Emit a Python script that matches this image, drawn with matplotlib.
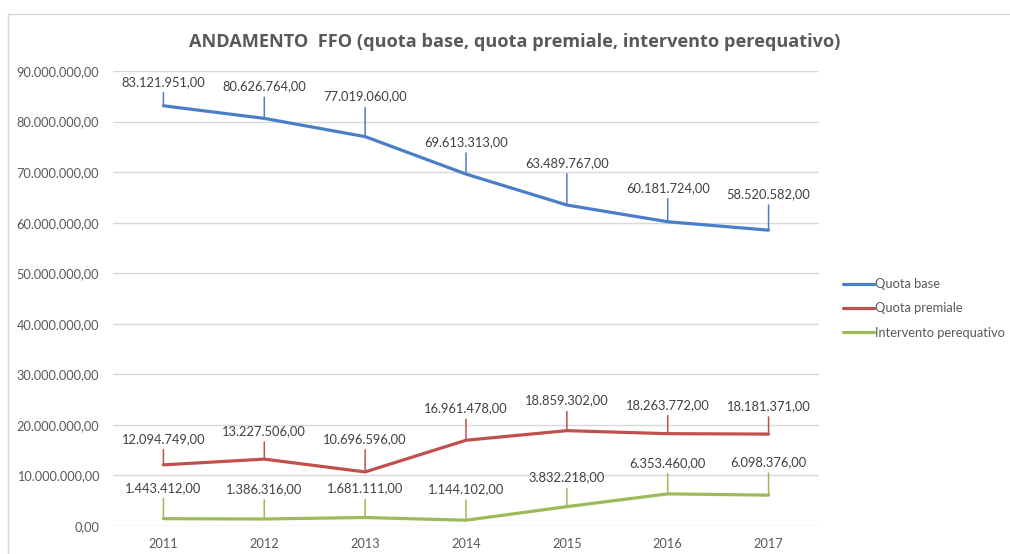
import matplotlib
matplotlib.use("Agg")
import matplotlib.pyplot as plt
from matplotlib.lines import Line2D

# data
anni = ["2011", "2012", "2013", "2014", "2015", "2016", "2017"]
quota_base = [83121951, 80626764, 77019060, 69613313, 63489767, 60181724, 58520582]
quota_premiale = [12094749, 13227506, 10696596, 16961478, 18859302, 18263772, 18181371]
intervento_pereq = [1443412, 1386316, 1681111, 1144102, 3832218, 6353460, 6098376]

# how far above the point each label sits (pixels)
off_base = [24, 32, 40, 32, 42, 34, 36]
off_premiale = [26, 28, 33, 32, 30, 29, 28]
off_pereq = [31, 30, 29, 31, 29, 31, 33]

serie = [
    ("Quota base", quota_base, off_base, "#4A7EC7"),
    ("Quota premiale", quota_premiale, off_premiale, "#C0504D"),
    ("Intervento perequativo", intervento_pereq, off_pereq, "#9BBB59"),
]

grigio = "#595959"


def fmt_it(v):
    s = f"{v:,.2f}"
    return s.replace(",", "X").replace(".", ",").replace("X", ".")


fig = plt.figure(figsize=(10.1, 5.54), dpi=100)
ax = fig.add_axes([113 / 1010, 1 - 526 / 554, (819 - 113) / 1010, (526 - 71) / 554])

x = list(range(len(anni)))
for nome, vals, offs, col in serie:
    ax.plot(x, vals, color=col, lw=2.3, label=nome, solid_capstyle="round", zorder=3)
    for xi, v, o in zip(x, vals, offs):
        ax.annotate(fmt_it(v), xy=(xi, v), xytext=(0, o * 0.72), textcoords="offset points",
                    ha="center", va="center", fontsize=9.3, color="#404040", family="Lato",
                    arrowprops=dict(arrowstyle="-", color=col, lw=1.1, shrinkA=1.5, shrinkB=0),
                    zorder=4)

ax.set_xlim(-0.5, len(anni) - 0.5)
ax.set_ylim(0, 90000000)
ax.set_yticks(range(0, 90000001, 10000000))
ax.set_yticklabels([fmt_it(t) for t in range(0, 90000001, 10000000)])
ax.set_xticks(x)
ax.set_xticklabels(anni)
ax.tick_params(length=0, colors=grigio, labelsize=9.2)
ax.tick_params(axis="y", pad=10)
ax.tick_params(axis="x", pad=9)
for lab in ax.get_xticklabels() + ax.get_yticklabels():
    lab.set_family("Lato")
ax.grid(axis="y", color="#D9D9D9", lw=1)
ax.set_axisbelow(True)
for sp in ax.spines.values():
    sp.set_visible(False)

fig.text(515 / 1010, 1 - 42 / 554, "ANDAMENTO  FFO (quota base, quota premiale, intervento perequativo)",
         ha="center", va="center", fontsize=13.1, fontweight="bold", color=grigio, family="Open Sans")

leg = fig.legend(loc="upper left", bbox_to_anchor=(838 / 1010, 1 - 273 / 554), frameon=False,
                 prop={"family": "Lato", "size": 9.3}, handlelength=2.4, handletextpad=0.1,
                 labelspacing=0.95, borderaxespad=0)
for t in leg.get_texts():
    t.set_color(grigio)

# light frame of the chart area
fig.add_artist(Line2D([8 / 1010, 1], [1 - 14 / 554, 1 - 14 / 554], color="#D9D9D9", lw=1))
fig.add_artist(Line2D([8 / 1010, 8 / 1010], [0, 1 - 14 / 554], color="#D9D9D9", lw=1))

fig.savefig("out.png", dpi=100)
